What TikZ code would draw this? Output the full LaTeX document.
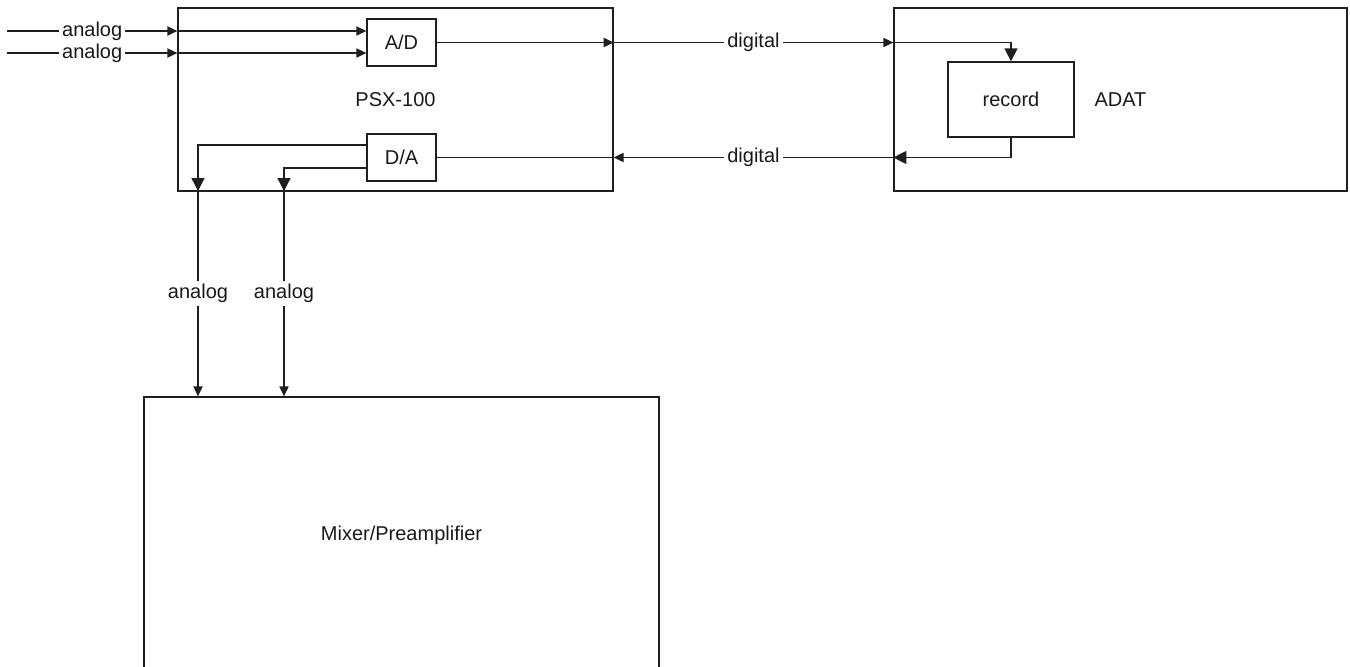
\documentclass[tikz,border=0pt]{standalone}
\usepackage{fontspec}
\setmainfont{Liberation Sans}
\usetikzlibrary{arrows.meta}
\begin{document}
\begin{tikzpicture}[x=0.5pt,y=-0.5pt,
  every node/.style={font=\fontsize{10}{12}\selectfont, text=black!90},
  line/.style={draw=black!88, line width=0.65pt},
  box/.style={line, rectangle, inner sep=0pt},
  small/.style={line, -{Triangle[length=5pt,width=4.6pt]}},
  big/.style={line, -{Triangle[length=6.5pt,width=6.5pt]}},
  lbl/.style={fill=white, inner sep=1.5pt}]
\useasboundingbox (0,0) rectangle (1350,666);
\clip (0,0) rectangle (1350,666);
% boxes
\node[box, minimum width=217.5pt, minimum height=91.5pt] (psx) at (395.5,99.5) {PSX-100};
\node[box, minimum width=34.5pt, minimum height=23.5pt] (ad) at (401.5,42.5) {A/D};
\node[box, minimum width=34.5pt, minimum height=23.5pt] (da) at (401.5,157.5) {D/A};
\node[box, minimum width=226.5pt, minimum height=91.5pt] (adat) at (1120.5,99.5) {ADAT};
\node[box, minimum width=63pt, minimum height=37.5pt] (rec) at (1011,99.5) {record};
\node[box, minimum width=257.5pt, minimum height=138pt] (mix) at (401.5,535) {Mixer/Preamplifier};
% free ends and bends
\coordinate (i1) at (7,31);
\coordinate (i2) at (7,53);
\coordinate (d1) at (198,191);
\coordinate (d2) at (284,191);
\coordinate (dao1) at ([yshift=6.25pt]da.west);
\coordinate (dao2) at ([yshift=-5.25pt]da.west);
% analog inputs
\draw[small] (i1) -- node[lbl]{analog} (i1 -| psx.west);
\draw[small] (i1 -| psx.west) -- (i1 -| ad.west);
\draw[small] (i2) -- node[lbl]{analog} (i2 -| psx.west);
\draw[small] (i2 -| psx.west) -- (i2 -| ad.west);
% digital out
\draw[small] (ad.east) -- (ad.east -| psx.east);
\draw[small] (ad.east -| psx.east) -- node[lbl]{digital} (ad.east -| adat.west);
\draw[big] (ad.east -| adat.west) -| (rec.north);
% digital back
\draw[big] (rec.south) |- (da.east -| adat.west);
\draw[small] (da.east -| adat.west) -- node[lbl]{digital} (da.east -| psx.east);
\draw[line] (da.east -| psx.east) -- (da.east);
% analog outputs
\draw[big] (dao1) -| (d1);
\draw[big] (dao2) -| (d2);
\draw[small] (d1) -- node[lbl]{analog} (d1 |- mix.north);
\draw[small] (d2) -- node[lbl]{analog} (d2 |- mix.north);
\end{tikzpicture}
\end{document}
